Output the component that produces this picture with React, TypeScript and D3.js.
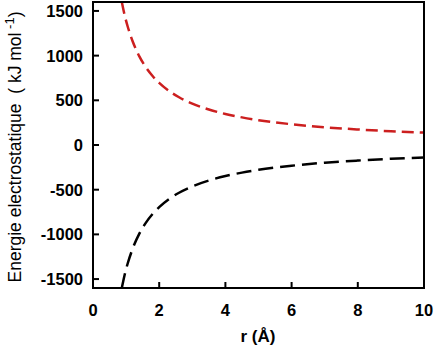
import React from "react";
import * as d3 from "d3";

const rValues = [0.87, 0.95, 1.05, 1.2, 1.4, 1.6, 1.8, 2, 2.3, 2.6, 3, 3.5, 4, 4.5, 5, 6, 7, 8, 9, 10];
const repulsive = [1600, 1462, 1323, 1158, 992, 868, 772, 695, 604, 534, 463, 397, 347, 309, 278, 232, 198, 174, 154, 139];
const attractive = [-1600, -1462, -1323, -1158, -992, -868, -772, -695, -604, -534, -463, -397, -347, -309, -278, -232, -198, -174, -154, -139];
const xTicks = [0, 2, 4, 6, 8, 10];
const yTicks = [-1500, -1000, -500, 0, 500, 1000, 1500];

export default function App() {
  const W = 434, H = 356;
  const left = 93, right = 424, top = 2, bottom = 288;
  const x = d3.scaleLinear().domain([0, 10]).range([left, right]);
  const y = d3.scaleLinear().domain([-1600, 1600]).range([bottom, top]);
  const line = d3
    .line<number>()
    .x((_, i) => x(rValues[i]))
    .y((d) => y(d))
    .curve(d3.curveMonotoneX);
  const font = "Arial, 'Liberation Sans', sans-serif";
  return (
    <svg width={W} height={H} style={{ position: "absolute", left: 0, top: 0 }}>
      <rect width={W} height={H} fill="#fff" />
      <defs>
        <clipPath id="plot">
          <rect x={left} y={top} width={right - left} height={bottom - top} />
        </clipPath>
      </defs>
      <g clipPath="url(#plot)">
        <path d={line(repulsive) || ""} fill="none" stroke="#cc1f1f" strokeWidth={2.5} strokeDasharray="12 6" />
        <path d={line(attractive) || ""} fill="none" stroke="#000" strokeWidth={2.5} strokeDasharray="15 7" />
      </g>
      {xTicks.map((t) => (
        <g key={"x" + t}>
          <line x1={x(t)} x2={x(t)} y1={bottom} y2={bottom - 6} stroke="#000" strokeWidth={2} />
          <text x={x(t)} y={bottom + 28} textAnchor="middle" fontFamily={font} fontWeight="bold" fontSize={16.5}>
            {t}
          </text>
        </g>
      ))}
      {yTicks.map((t) => (
        <g key={"y" + t}>
          <line x1={left} x2={left + 6} y1={y(t)} y2={y(t)} stroke="#000" strokeWidth={2} />
          <text x={left - 10} y={y(t) + 6} textAnchor="end" fontFamily={font} fontWeight="bold" fontSize={16.5}>
            {t}
          </text>
        </g>
      ))}
      <rect x={left} y={top} width={right - left} height={bottom - top} fill="none" stroke="#000" strokeWidth={2} />
      <text x={258} y={342} textAnchor="middle" fontFamily={font} fontWeight="bold" fontSize={17}>
        r (Å)
      </text>
      <text
        transform={`translate(21, ${147}) rotate(-90)`}
        textAnchor="middle"
        fontFamily={font}
        fontSize={17.5}
        style={{ whiteSpace: "pre" }}
      >
        {"Energie electrostatique  ( kJ mol"}
        <tspan dy={-7} fontSize={13}> -1</tspan>
        <tspan dy={7}>)</tspan>
      </text>
    </svg>
  );
}
